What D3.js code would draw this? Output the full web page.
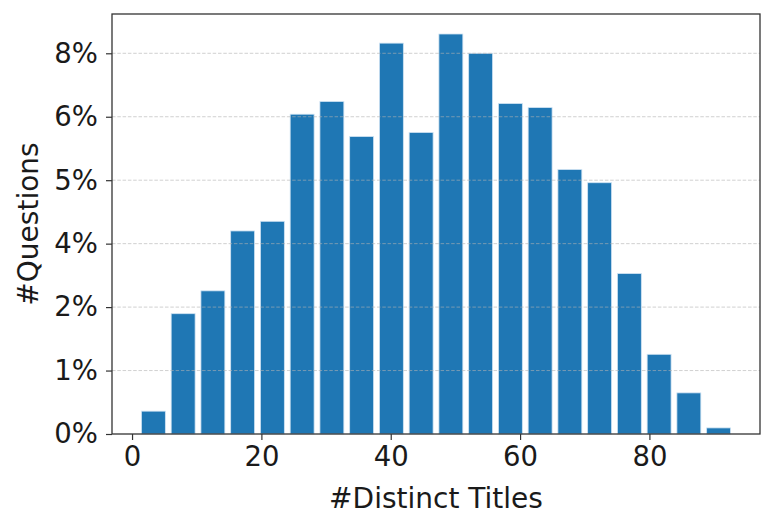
<!DOCTYPE html>
<html>
<head>
<meta charset="utf-8">
<script src="https://cdn.jsdelivr.net/npm/d3@7"></script>
<style>
  body { margin: 0; background: #fff; }
  text { font-family: "DejaVu Sans", sans-serif; fill: #1a1a1a; }
</style>
</head>
<body>
<script>
// bin centres (number of distinct titles) and share of questions in %
var binCenters = [3.3, 7.9, 12.5, 17.1, 21.7, 26.3, 30.9, 35.5, 40.1, 44.7,
                  49.3, 53.9, 58.5, 63.1, 67.7, 72.3, 76.9, 81.5, 86.1, 90.7];
var questionPct = [0.45, 2.37, 2.82, 4.00, 4.19, 6.30, 6.55, 5.86, 7.70, 5.94,
                   7.88, 7.50, 6.51, 6.43, 5.21, 4.95, 3.16, 1.57, 0.81, 0.12];
var binWidth = 3.7;

var xTicks = [0, 20, 40, 60, 80];
var yTicks = [0, 1.25, 2.5, 3.75, 5, 6.25, 7.5];
var yTickLabels = ["0%", "1%", "2%", "4%", "5%", "6%", "8%"];

var width = 772, height = 527;
var margin = {top: 14, right: 12, bottom: 93, left: 112};

var svg = d3.select("body").append("svg")
    .attr("width", width)
    .attr("height", height);

var x = d3.scaleLinear()
    .domain([-3.1, 97.1])
    .range([margin.left, width - margin.right]);

var y = d3.scaleLinear()
    .domain([0, d3.max(questionPct) * 1.05])
    .range([height - margin.bottom, margin.top]);

// bars
svg.selectAll("rect.bar")
    .data(questionPct)
    .enter().append("rect")
      .attr("class", "bar")
      .attr("x", function(d, i) { return x(binCenters[i] - binWidth / 2); })
      .attr("width", function(d, i) { return x(binCenters[i] + binWidth / 2) - x(binCenters[i] - binWidth / 2); })
      .attr("y", function(d) { return y(d); })
      .attr("height", function(d) { return y(0) - y(d); })
      .attr("fill", "#1f77b4")
      .attr("stroke", "#cfe3f3")
      .attr("stroke-width", 0.8);

// horizontal grid on top of bars
svg.append("g")
    .selectAll("line")
    .data(yTicks.slice(1))
    .enter().append("line")
      .attr("x1", x.range()[0])
      .attr("x2", x.range()[1])
      .attr("y1", function(d) { return y(d); })
      .attr("y2", function(d) { return y(d); })
      .attr("stroke", "#b0b0b0")
      .attr("stroke-opacity", 0.6)
      .attr("stroke-width", 1)
      .attr("stroke-dasharray", "3.5,1.8");

// frame
svg.append("rect")
    .attr("x", x.range()[0])
    .attr("y", y.range()[1])
    .attr("width", x.range()[1] - x.range()[0])
    .attr("height", y.range()[0] - y.range()[1])
    .attr("fill", "none")
    .attr("stroke", "#333")
    .attr("stroke-width", 1.3);

// axes
var xAxis = svg.append("g")
    .attr("transform", "translate(0," + y.range()[0] + ")")
    .call(d3.axisBottom(x).tickValues(xTicks).tickSize(6).tickPadding(6).tickFormat(d3.format("d")));

var yAxis = svg.append("g")
    .attr("transform", "translate(" + x.range()[0] + ",0)")
    .call(d3.axisLeft(y).tickValues(yTicks).tickSize(6).tickPadding(8)
      .tickFormat(function(d, i) { return yTickLabels[i]; }));

[xAxis, yAxis].forEach(function(g) {
  g.select(".domain").remove();
  g.selectAll(".tick line").attr("stroke", "#333").attr("stroke-width", 1.2);
  g.selectAll(".tick text")
    .attr("font-family", "DejaVu Sans, sans-serif")
    .attr("font-size", 27.5)
    .attr("fill", "#1a1a1a");
});

// axis titles
svg.append("text")
    .attr("x", (x.range()[0] + x.range()[1]) / 2)
    .attr("y", 508)
    .attr("text-anchor", "middle")
    .attr("font-size", 28)
    .text("#Distinct Titles");

svg.append("text")
    .attr("transform", "translate(38," + (y.range()[0] + y.range()[1]) / 2 + ") rotate(-90)")
    .attr("text-anchor", "middle")
    .attr("font-size", 28)
    .text("#Questions");
</script>
</body>
</html>
